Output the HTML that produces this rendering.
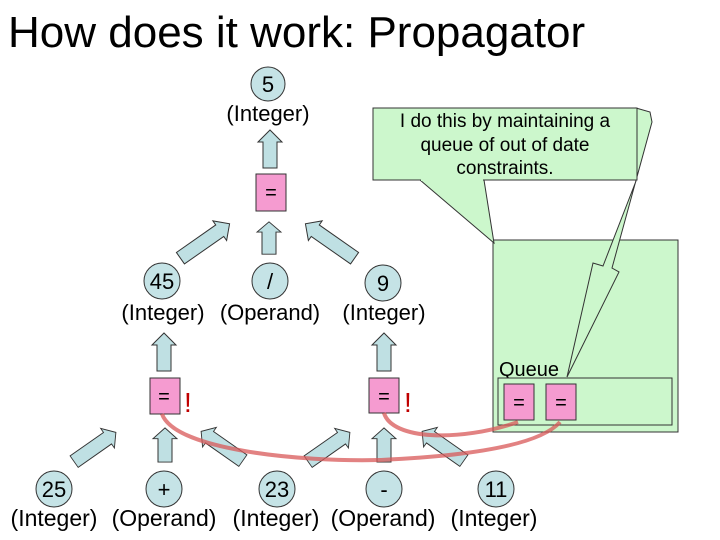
<!DOCTYPE html>
<html><head><style>
body{margin:0;background:#fff}
svg{display:block}
text{font-family:"Liberation Sans",sans-serif;fill:#000}
</style></head><body>
<svg width="720" height="540" viewBox="0 0 720 540">
<defs>
<path id="av" d="M-7,19 L-7,-7 L-12,-7 L0,-19 L12,-7 L7,-7 L7,19Z" fill="#bfe0e3" stroke="#333" stroke-width="1"/>
<path id="ad" d="M-7,30 L-7,-18 L-12,-18 L0,-30 L12,-18 L7,-18 L7,30Z" fill="#bfe0e3" stroke="#333" stroke-width="1"/>
</defs>
<text x="8" y="47" font-size="44">How does it work: Propagator</text>

<!-- top -->
<circle cx="268" cy="84" r="17" fill="#c5e3e6" stroke="#333"/>
<text x="268" y="92" font-size="22" text-anchor="middle">5</text>
<text x="268" y="121" font-size="22" text-anchor="middle">(Integer)</text>
<use href="#av" transform="translate(270,149)"/>
<rect x="256" y="174" width="30" height="37" fill="#f59bd0" stroke="#333"/>
<text x="271" y="199" font-size="20" text-anchor="middle">=</text>

<!-- level 2 arrows -->
<use href="#ad" transform="translate(205,241) rotate(55)"/>
<use href="#av" transform="translate(269,238) scale(1,0.85)"/>
<use href="#ad" transform="translate(330,241) rotate(-55)"/>

<circle cx="162" cy="281" r="18" fill="#c5e3e6" stroke="#333"/>
<text x="162" y="289" font-size="22" text-anchor="middle">45</text>
<circle cx="270" cy="281" r="18" fill="#c5e3e6" stroke="#333"/>
<text x="270" y="289" font-size="22" text-anchor="middle">/</text>
<circle cx="383" cy="283" r="18" fill="#c5e3e6" stroke="#333"/>
<text x="383" y="291" font-size="22" text-anchor="middle">9</text>
<text x="163" y="320" font-size="22" text-anchor="middle">(Integer)</text>
<text x="270" y="320" font-size="22" text-anchor="middle">(Operand)</text>
<text x="384" y="320" font-size="22" text-anchor="middle">(Integer)</text>

<!-- level 3 -->
<use href="#av" transform="translate(164,352)"/>
<use href="#av" transform="translate(384,352)"/>
<rect x="150" y="378" width="30" height="36" fill="#f59bd0" stroke="#333"/>
<text x="164" y="403" font-size="20" text-anchor="middle">=</text>
<text x="184" y="412" font-size="28" style="fill:#c00000">!</text>
<rect x="369" y="378" width="30" height="35" fill="#f59bd0" stroke="#333"/>
<text x="384" y="403" font-size="20" text-anchor="middle">=</text>
<text x="404" y="412" font-size="28" style="fill:#c00000">!</text>

<!-- queue -->
<rect x="493" y="240" width="185" height="192" fill="#ccf7cc" stroke="#333"/>
<text x="499" y="376" font-size="20">Queue</text>
<rect x="498" y="378" width="174" height="47" fill="#ccf7cc" stroke="#333"/>
<rect x="504" y="384" width="30" height="36" fill="#f59bd0" stroke="#333"/>
<text x="519" y="409" font-size="20" text-anchor="middle">=</text>
<rect x="546" y="384" width="30" height="36" fill="#f59bd0" stroke="#333"/>
<text x="561" y="409" font-size="20" text-anchor="middle">=</text>

<!-- callout -->
<polygon points="636,108 650,112 652,122 612,268 619,272 567,377 593,263 603,266 636,181" fill="#ccf7cc" stroke="#333"/>
<polygon points="420,180 494,243 484,180" fill="#ccf7cc" stroke="#333"/>
<rect x="373" y="108" width="264" height="72" fill="#ccf7cc" stroke="#333"/>
<line x1="421" y1="180" x2="483" y2="180" stroke="#ccf7cc" stroke-width="2"/>
<text x="505" y="127" font-size="19" text-anchor="middle">I do this by maintaining a</text>
<text x="505" y="151" font-size="19" text-anchor="middle">queue of out of date</text>
<text x="505" y="174" font-size="19" text-anchor="middle">constraints.</text>

<!-- bottom arrows -->
<use href="#ad" transform="translate(95,447) rotate(55) scale(1,0.85)"/>
<use href="#av" transform="translate(165,445) scale(1,0.9)"/>
<use href="#ad" transform="translate(222,446) rotate(-55) scale(1,0.85)"/>
<use href="#ad" transform="translate(329,447) rotate(55) scale(1,0.85)"/>
<use href="#av" transform="translate(384,445) scale(1,0.9)"/>
<use href="#ad" transform="translate(443,446) rotate(-55) scale(1,0.85)"/>

<!-- red curves -->
<path d="M162,414 C175,450 300,462 380,460 C470,456 540,445 560,422" fill="none" stroke="#d85858" stroke-opacity="0.75" stroke-width="4"/>
<path d="M384,413 C392,440 460,442 518,422" fill="none" stroke="#d85858" stroke-opacity="0.75" stroke-width="4"/>

<!-- bottom nodes -->
<circle cx="54" cy="489" r="18" fill="#c5e3e6" stroke="#333"/>
<text x="54" y="497" font-size="22" text-anchor="middle">25</text>
<circle cx="164" cy="489" r="18" fill="#c5e3e6" stroke="#333"/>
<text x="164" y="497" font-size="22" text-anchor="middle">+</text>
<circle cx="277" cy="489" r="18" fill="#c5e3e6" stroke="#333"/>
<text x="277" y="497" font-size="22" text-anchor="middle">23</text>
<circle cx="384" cy="489" r="18" fill="#c5e3e6" stroke="#333"/>
<text x="384" y="497" font-size="22" text-anchor="middle">-</text>
<circle cx="496" cy="489" r="18" fill="#c5e3e6" stroke="#333"/>
<text x="496" y="497" font-size="22" text-anchor="middle">11</text>
<text x="54" y="526" font-size="23" text-anchor="middle">(Integer)</text>
<text x="164" y="526" font-size="23" text-anchor="middle">(Operand)</text>
<text x="276" y="526" font-size="23" text-anchor="middle">(Integer)</text>
<text x="383" y="526" font-size="23" text-anchor="middle">(Operand)</text>
<text x="494" y="526" font-size="23" text-anchor="middle">(Integer)</text>
</svg>
</body></html>
